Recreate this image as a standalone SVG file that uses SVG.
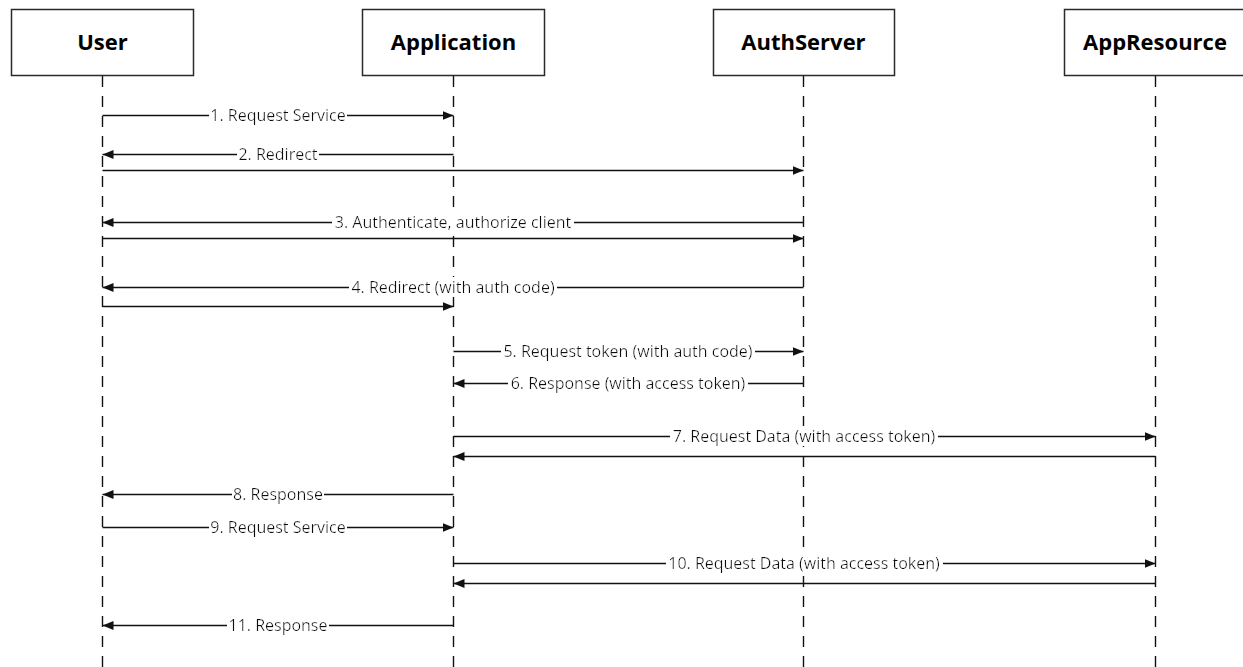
<svg xmlns="http://www.w3.org/2000/svg" width="1243" height="667" viewBox="0 0 1243 667">
  <style>
    .box { fill: #fff; stroke: #2a2a2a; stroke-width: 1.5; }
    .title { font-family: "Open Sans", "Noto Sans", sans-serif; font-weight: bold; font-size: 22px; text-anchor: middle; fill: #000; }
    .life { stroke: #111; stroke-width: 1.4; stroke-dasharray: 11 9; fill: none; }
    .msg { stroke: #111; stroke-width: 1.4; fill: none; marker-end: url(#arrow); }
    .lbl { font-family: "Open Sans", "Noto Sans", sans-serif; font-size: 16px; text-anchor: middle; fill: #111; filter: url(#bg); }
  </style>
  <defs>
    <marker id="arrow" markerUnits="userSpaceOnUse" markerWidth="12" markerHeight="10" refX="11" refY="4.5" orient="auto">
      <path d="M0,0 L11,4.5 L0,9 Z" fill="#111"/>
    </marker>
    <filter id="bg" x="-0.008" y="0.08" width="1.016" height="0.84">
      <feFlood flood-color="#fff" result="f"/>
      <feMerge><feMergeNode in="f"/><feMergeNode in="SourceGraphic"/></feMerge>
    </filter>
  </defs>
  <rect width="1243" height="667" fill="#fff"/>

  <g id="user">
    <line class="life" x1="102.5" y1="76" x2="102.5" y2="667"/>
    <rect class="box" x="11.5" y="9.5" width="182" height="66"/>
    <text class="title" x="102.5" y="50">User</text>
  </g>
  <g id="application">
    <line class="life" x1="453.5" y1="76" x2="453.5" y2="667"/>
    <rect class="box" x="362.5" y="9.5" width="182" height="66"/>
    <text class="title" x="453.5" y="50">Application</text>
  </g>
  <g id="authserver">
    <line class="life" x1="803.5" y1="76" x2="803.5" y2="667"/>
    <rect class="box" x="713.5" y="9.5" width="181" height="66"/>
    <text class="title" x="803.5" y="50">AuthServer</text>
  </g>
  <g id="appresource">
    <line class="life" x1="1155.5" y1="76" x2="1155.5" y2="667"/>
    <rect class="box" x="1064.5" y="9.5" width="182" height="66"/>
    <text class="title" x="1155" y="50">AppResource</text>
  </g>

  <g id="connectors">
    <line class="msg" x1="102.5" y1="115.5" x2="453.5" y2="115.5"/>
    <line class="msg" x1="453.5" y1="154.5" x2="102.5" y2="154.5"/>
    <line class="msg" x1="102.5" y1="170.5" x2="803.5" y2="170.5"/>
    <line class="msg" x1="803.5" y1="222.5" x2="102.5" y2="222.5"/>
    <line class="msg" x1="102.5" y1="238.5" x2="803.5" y2="238.5"/>
    <line class="msg" x1="803.5" y1="287.5" x2="102.5" y2="287.5"/>
    <line class="msg" x1="102.5" y1="306.5" x2="453.5" y2="306.5"/>
    <line class="msg" x1="453.5" y1="351.5" x2="803.5" y2="351.5"/>
    <line class="msg" x1="803.5" y1="383.5" x2="453.5" y2="383.5"/>
    <line class="msg" x1="453.5" y1="436.5" x2="1155.5" y2="436.5"/>
    <line class="msg" x1="1155.5" y1="456.5" x2="453.5" y2="456.5"/>
    <line class="msg" x1="453.5" y1="494.5" x2="102.5" y2="494.5"/>
    <line class="msg" x1="102.5" y1="527.5" x2="453.5" y2="527.5"/>
    <line class="msg" x1="453.5" y1="563.5" x2="1155.5" y2="563.5"/>
    <line class="msg" x1="1155.5" y1="583.5" x2="453.5" y2="583.5"/>
    <line class="msg" x1="453.5" y1="625.5" x2="102.5" y2="625.5"/>

    <text class="lbl" x="278" y="121">1. Request Service</text>
    <text class="lbl" x="278" y="160">2. Redirect</text>
    <text class="lbl" x="453" y="228">3. Authenticate, authorize client</text>
    <text class="lbl" x="453" y="293">4. Redirect (with auth code)</text>
    <text class="lbl" x="628" y="357">5. Request token (with auth code)</text>
    <text class="lbl" x="628" y="389">6. Response (with access token)</text>
    <text class="lbl" x="804" y="442">7. Request Data (with access token)</text>
    <text class="lbl" x="278" y="500">8. Response</text>
    <text class="lbl" x="278" y="533">9. Request Service</text>
    <text class="lbl" x="804" y="569">10. Request Data (with access token)</text>
    <text class="lbl" x="278" y="631">11. Response</text>
  </g>
</svg>
